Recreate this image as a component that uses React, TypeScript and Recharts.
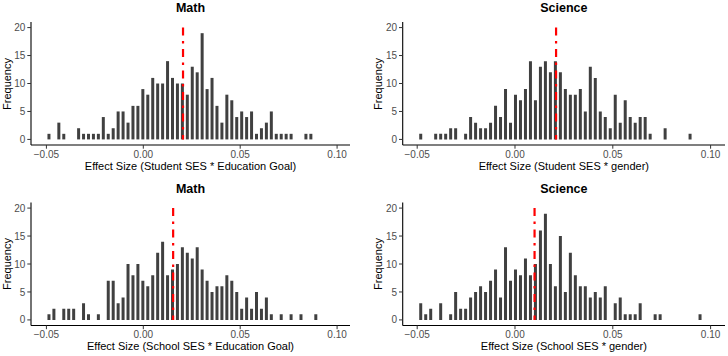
import React from 'react'
import { BarChart, Bar, XAxis, YAxis, ReferenceLine } from 'recharts'

// histogram bins (counts), same bin width in every panel
const binWidth = 0.00255
const binStarts = [-0.0487, -0.0482, -0.0487, -0.0482]

const mathStudentCounts = [
  1, 0, 3, 1, 0, 0, 2, 1, 1, 1, 1, 4, 1, 2, 5, 5, 3, 6, 6, 9,
  8, 11, 10, 10, 14, 11, 10, 10, 8, 13, 12, 19, 9, 11, 6, 3, 8, 7, 4, 5,
  4, 5, 1, 2, 3, 5, 1, 1, 1, 1, 0, 0, 1, 1,
]
const scienceStudentCounts = [
  1, 0, 0, 1, 1, 1, 2, 2, 0, 1, 4, 3, 2, 2, 3, 6, 4, 9, 3, 8,
  7, 9, 14, 7, 13, 14, 12, 14, 12, 9, 8, 8, 9, 5, 13, 11, 5, 4, 2, 8,
  3, 7, 4, 3, 4, 4, 1, 0, 0, 2, 0, 0, 0, 0, 1,
]
const mathSchoolCounts = [
  1, 2, 0, 2, 2, 2, 0, 3, 1, 0, 1, 0, 7, 7, 3, 4, 10, 8, 10, 7,
  6, 8, 12, 14, 8, 9, 10, 13, 12, 11, 13, 9, 7, 5, 6, 6, 8, 7, 5, 2,
  4, 2, 5, 2, 4, 1, 0, 1, 0, 1, 0, 1, 0, 0, 1,
]
const scienceSchoolCounts = [
  3, 1, 2, 0, 3, 0, 1, 5, 2, 2, 4, 5, 6, 5, 7, 9, 4, 13, 7, 9,
  8, 11, 8, 10, 16, 19, 10, 6, 15, 5, 12, 8, 6, 6, 4, 5, 4, 6, 0, 3,
  4, 1, 1, 1, 3, 0, 0, 1, 1, 0, 0, 0, 0, 0, 0, 0, 1,
]

const means = [0.0205, 0.021, 0.0154, 0.01]
const titles = ['Math', 'Science', 'Math', 'Science']
const xLabels = [
  'Effect Size (Student SES * Education Goal)',
  'Effect Size (Student SES * gender)',
  'Effect Size (School SES * Education Goal)',
  'Effect Size (School SES * gender)',
]
const xTicks = [-0.05, 0, 0.05, 0.1]
const yTicks = [0, 5, 10, 15, 20]

const allCounts = [mathStudentCounts, scienceStudentCounts, mathSchoolCounts, scienceSchoolCounts]

// panel boxes in page pixels
const PW = 364
const PH = 178
const layout = [
  { left: 0, top: 0, plotLeft: 31, plotRight: 350, plotTop: 22, plotBottom: 145, domain: [-0.05795, 0.10666] },
  { left: 364, top: 0, plotLeft: 402.7, plotRight: 725, plotTop: 22, plotBottom: 145, domain: [-0.05741, 0.10736] },
  { left: 0, top: 178, plotLeft: 31, plotRight: 350, plotTop: 202.5, plotBottom: 325.5, domain: [-0.05795, 0.10666] },
  { left: 364, top: 178, plotLeft: 402.7, plotRight: 725, plotTop: 202.5, plotBottom: 325.5, domain: [-0.05741, 0.10736] },
]

const fmtX = (v: number) => (v < 0 ? '\u2212' : '') + Math.abs(v).toFixed(2)

const tickStyle = { fill: '#4d4d4d', fontSize: 10 }

function Panel({ idx }: { idx: number }) {
  const L = layout[idx]
  const data = allCounts[idx].map((c, i) => ({
    x: +(binStarts[idx] + i * binWidth).toFixed(5),
    count: c,
  }))
  const yAxisW = L.plotLeft - L.left
  const xAxisH = L.top + PH - L.plotBottom
  const cx = (L.plotLeft + L.plotRight) / 2 - L.left
  const cy = (L.plotTop + L.plotBottom) / 2 - L.top

  return (
    <div style={{ position: 'absolute', left: L.left, top: L.top, width: PW, height: PH }}>
      <BarChart
        width={PW}
        height={PH}
        data={data}
        margin={{ top: L.plotTop - L.top, right: L.left + PW - L.plotRight, bottom: 0, left: 0 }}
      >
        <XAxis
          dataKey="x"
          type="number"
          domain={L.domain}
          allowDataOverflow
          ticks={xTicks}
          tickFormatter={fmtX}
          tick={tickStyle}
          tickSize={3.7}
          tickMargin={2}
          height={xAxisH}
          axisLine={{ stroke: '#000', strokeWidth: 1.1 }}
          tickLine={{ stroke: '#333' }}
        />
        <YAxis
          type="number"
          domain={[-1, 21]}
          allowDataOverflow
          ticks={yTicks}
          tick={tickStyle}
          tickSize={3.7}
          tickMargin={2}
          width={yAxisW}
          axisLine={{ stroke: '#000', strokeWidth: 1.1 }}
          tickLine={{ stroke: '#333' }}
        />
        <Bar dataKey="count" fill="#404040" barSize={3} isAnimationActive={false} />
        <ReferenceLine
          segment={[{ x: means[idx], y: 20 }, { x: means[idx], y: 0 }]}
          stroke="#ff0000"
          strokeWidth={2.2}
          strokeDasharray="8 5.5 2.5 5.5"
          ifOverflow="visible"
        />
      </BarChart>
      <div style={{ position: 'absolute', left: cx, top: L.plotTop - L.top - 14, transform: 'translate(-50%,-50%)', fontWeight: 'bold', fontSize: 12.5, whiteSpace: 'nowrap', lineHeight: 1 }}>
        {titles[idx]}
      </div>
      <div style={{ position: 'absolute', left: cx, top: L.plotBottom - L.top + 20.5, transform: 'translate(-50%,-50%)', fontSize: 11, whiteSpace: 'nowrap', lineHeight: 1 }}>
        {xLabels[idx]}
      </div>
      <div style={{ position: 'absolute', left: yAxisW - 24.3, top: cy, transform: 'translate(-50%,-50%) rotate(-90deg)', fontSize: 11, whiteSpace: 'nowrap', lineHeight: 1 }}>
        Frequency
      </div>
    </div>
  )
}

export default function App() {
  return (
    <div
      style={{
        position: 'absolute',
        left: 0,
        top: 0,
        width: 728,
        height: 356,
        background: '#fff',
        fontFamily: '"Liberation Sans", Arial, Helvetica, sans-serif',
        color: '#000',
        overflow: 'hidden',
      }}
    >
      {[0, 1, 2, 3].map(i => (
        <Panel key={i} idx={i} />
      ))}
    </div>
  )
}
